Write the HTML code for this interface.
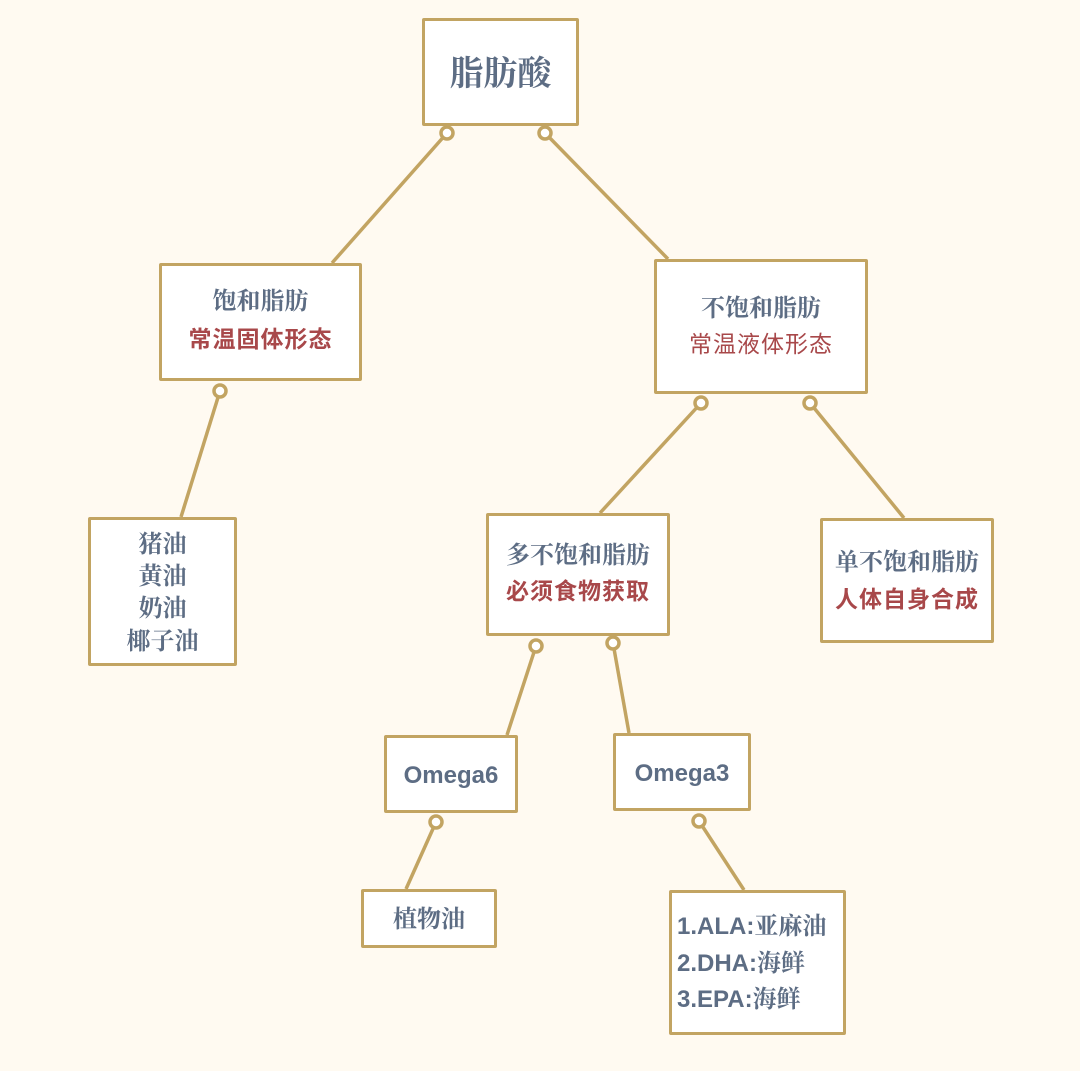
<!DOCTYPE html>
<html><head><meta charset="utf-8"><style>
html,body{margin:0;padding:0;}
body{width:1080px;height:1071px;background:#fffaf1;position:relative;overflow:hidden;}
.b{position:absolute;background:#fff;border:3px solid #c2a462;box-sizing:border-box;border-radius:2px;}
.t{position:absolute;height:34px;line-height:34px;text-align:center;white-space:nowrap;color:#5d6d84;font-family:"Liberation Serif","Noto Serif CJK SC",serif;font-weight:700;font-size:24px;}
.r{color:#a8484a;font-family:"Liberation Sans","Noto Sans CJK SC",sans-serif;font-weight:700;font-size:23px;letter-spacing:1px;}
.o{font-family:"Liberation Sans","Noto Sans CJK SC",sans-serif;font-weight:700;font-size:24px;}
svg{position:absolute;left:0;top:0;}
</style></head><body>
<svg width="1080" height="1071">
<g stroke="#c2a462" stroke-width="3.5" fill="none">
<line x1="447" y1="133" x2="332" y2="263"/>
<line x1="545" y1="133" x2="668" y2="259"/>
<line x1="220" y1="391" x2="181" y2="517"/>
<line x1="701" y1="403" x2="600" y2="513"/>
<line x1="810" y1="403" x2="904" y2="518"/>
<line x1="536" y1="646" x2="507" y2="735"/>
<line x1="613" y1="643" x2="629" y2="733"/>
<line x1="436" y1="822" x2="406" y2="889"/>
<line x1="699" y1="821" x2="744" y2="890"/>
</g>
</svg>
<div class="b" style="left:422px;top:18px;width:157px;height:108px"></div>
<div class="b" style="left:159px;top:263px;width:203px;height:118px"></div>
<div class="b" style="left:654px;top:259px;width:214px;height:135px"></div>
<div class="b" style="left:88px;top:517px;width:149px;height:149px"></div>
<div class="b" style="left:486px;top:513px;width:184px;height:123px"></div>
<div class="b" style="left:820px;top:518px;width:174px;height:125px"></div>
<div class="b" style="left:384px;top:735px;width:134px;height:78px"></div>
<div class="b" style="left:613px;top:733px;width:138px;height:78px"></div>
<div class="b" style="left:361px;top:889px;width:136px;height:59px"></div>
<div class="b" style="left:669px;top:890px;width:177px;height:145px"></div>
<svg width="1080" height="1071">
<g stroke="#c2a462" stroke-width="3.5" fill="#fff">
<circle cx="447" cy="133" r="6"/><circle cx="545" cy="133" r="6"/>
<circle cx="220" cy="391" r="6"/>
<circle cx="701" cy="403" r="6"/><circle cx="810" cy="403" r="6"/>
<circle cx="536" cy="646" r="6"/><circle cx="613" cy="643" r="6"/>
<circle cx="436" cy="822" r="6"/><circle cx="699" cy="821" r="6"/>
</g>
</svg>
<div class="t" style="left:422px;width:157px;top:55px;height:40px;line-height:40px;font-size:34px">脂肪酸</div>
<div class="t" style="left:159px;width:203px;top:285px">饱和脂肪</div>
<div class="t r" style="left:159px;width:203px;top:322px">常温固体形态</div>
<div class="t" style="left:654px;width:214px;top:292px">不饱和脂肪</div>
<div class="t r" style="left:654px;width:214px;top:327px;font-weight:400">常温液体形态</div>
<div class="t" style="left:88px;width:149px;top:528px">猪油</div>
<div class="t" style="left:88px;width:149px;top:560px">黄油</div>
<div class="t" style="left:88px;width:149px;top:592px">奶油</div>
<div class="t" style="left:88px;width:149px;top:625px">椰子油</div>
<div class="t" style="left:486px;width:184px;top:539px">多不饱和脂肪</div>
<div class="t r" style="left:486px;width:184px;top:574px">必须食物获取</div>
<div class="t" style="left:820px;width:174px;top:546px">单不饱和脂肪</div>
<div class="t r" style="left:820px;width:174px;top:582px">人体自身合成</div>
<div class="t o" style="left:384px;width:134px;top:759px">Omega6</div>
<div class="t o" style="left:613px;width:138px;top:757px">Omega3</div>
<div class="t" style="left:361px;width:136px;top:903px">植物油</div>
<div class="t" style="left:677px;top:910px;text-align:left"><span class="o">1.ALA:</span>亚麻油</div>
<div class="t" style="left:677px;top:947px;text-align:left"><span class="o">2.DHA:</span>海鲜</div>
<div class="t" style="left:677px;top:983px;text-align:left"><span class="o">3.EPA:</span>海鲜</div>
</body></html>
